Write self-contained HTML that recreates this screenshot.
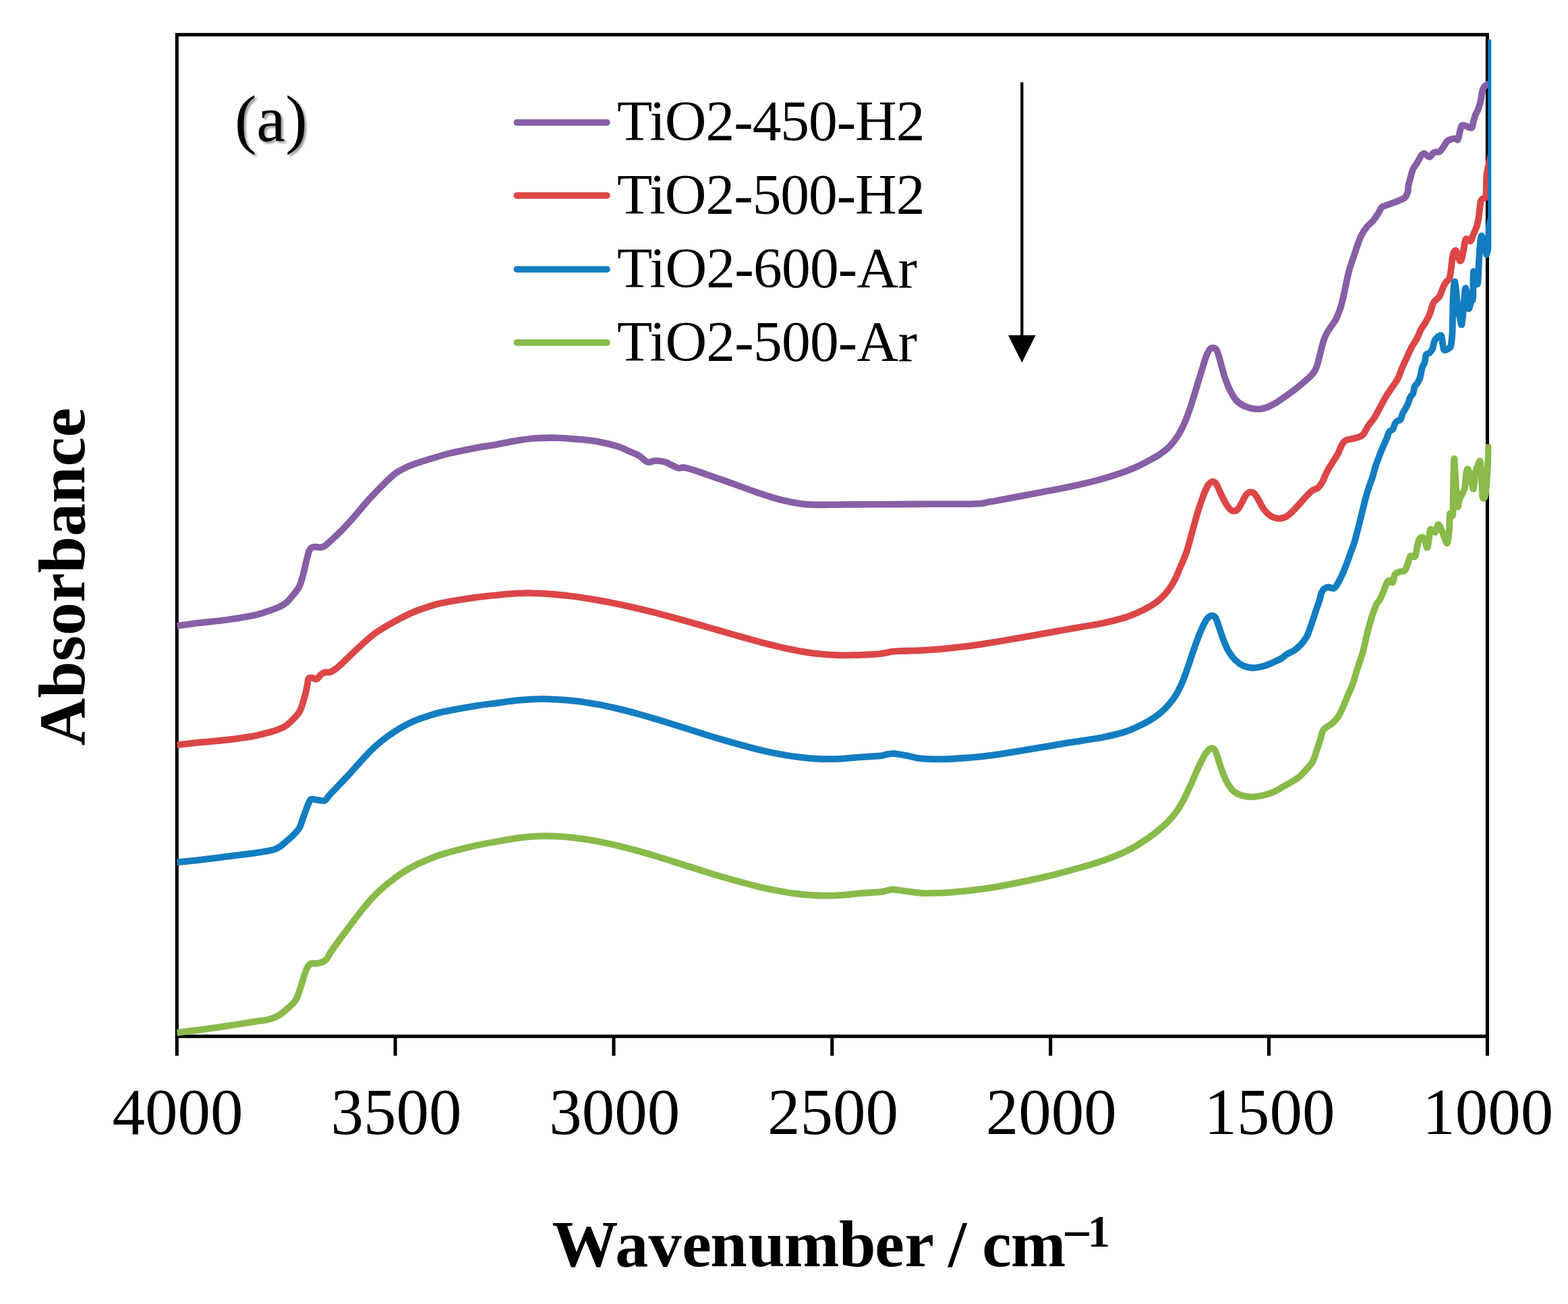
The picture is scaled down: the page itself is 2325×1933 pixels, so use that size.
<!DOCTYPE html>
<html lang="en"><head><meta charset="utf-8"><title>FTIR absorbance spectra</title>
<style>html,body{margin:0;padding:0;background:#fff}body{width:2325px;height:1933px;overflow:hidden}svg{display:block;filter:blur(0.6px)}</style></head>
<body>
<svg width="2325" height="1933" viewBox="0 0 2325 1933">
<defs><clipPath id="cp"><rect x="255" y="45" width="1956.3" height="1496"/></clipPath><filter id="sh" x="-20%" y="-20%" width="150%" height="150%"><feGaussianBlur in="SourceAlpha" stdDeviation="1.8"/><feOffset dx="2.6" dy="2.6"/><feComponentTransfer><feFuncA type="linear" slope="0.4"/></feComponentTransfer><feMerge><feMergeNode/><feMergeNode in="SourceGraphic"/></feMerge></filter></defs>
<rect width="2325" height="1933" fill="#fff"/>
<g stroke="#000" stroke-width="5.1" fill="none" stroke-linecap="butt">
<rect x="262.3" y="51.4" width="1943.1" height="1484.8"/>
<line x1="262.3" y1="1536.2" x2="262.3" y2="1565"/>
<line x1="586.1" y1="1536.2" x2="586.1" y2="1565"/>
<line x1="910.0" y1="1536.2" x2="910.0" y2="1565"/>
<line x1="1233.8" y1="1536.2" x2="1233.8" y2="1565"/>
<line x1="1557.7" y1="1536.2" x2="1557.7" y2="1565"/>
<line x1="1881.5" y1="1536.2" x2="1881.5" y2="1565"/>
<line x1="2205.4" y1="1536.2" x2="2205.4" y2="1565"/>
</g>
<g fill="none" stroke-linejoin="round" stroke-linecap="butt" clip-path="url(#cp)" stroke-width="9.8">
<path d="M262.5,927.8C267.9,927.1 283.0,924.9 295.1,923.4C307.2,921.9 321.8,920.8 335.2,919.0C348.6,917.2 365.3,914.4 375.3,912.4C385.3,910.4 389.3,908.6 395.3,906.7C401.3,904.8 406.6,903.0 411.3,900.9C416.0,898.8 419.7,897.1 423.4,894.2C427.1,891.3 430.1,887.5 433.4,883.5C436.7,879.5 440.7,875.0 443.2,870.5C445.7,866.0 446.7,861.5 448.2,856.5C449.7,851.5 450.9,845.8 452.2,840.4C453.5,835.0 455.0,828.7 456.2,824.4C457.4,820.1 457.8,816.7 459.4,814.4C460.9,812.1 462.8,811.3 465.5,810.8C468.2,810.3 472.8,811.6 475.5,811.4C478.2,811.2 479.2,810.9 481.5,809.4C483.8,807.9 485.5,806.1 489.5,802.4C493.5,798.7 499.6,793.4 505.6,787.3C511.6,781.2 518.9,773.2 525.6,765.6C532.3,758.0 538.9,749.3 545.6,741.9C552.3,734.5 559.0,727.6 565.7,721.0C572.4,714.4 579.0,707.3 585.7,702.3C592.4,697.3 599.1,694.1 605.8,691.1C612.5,688.1 619.1,686.4 625.8,684.2C632.5,682.0 639.2,679.9 645.9,677.9C652.6,675.9 656.0,674.5 665.9,672.2C675.8,669.9 693.6,666.3 705.1,664.1C716.6,661.9 725.1,660.9 735.1,659.1C745.1,657.3 755.2,654.9 765.2,653.3C775.2,651.7 785.3,650.4 795.3,649.7C805.3,649.0 815.3,648.9 825.3,649.1C835.3,649.3 845.4,650.1 855.4,651.0C865.4,651.9 875.5,652.6 885.5,654.4C895.5,656.2 907.1,659.0 915.5,661.6C923.9,664.2 930.2,667.8 935.6,670.1C941.0,672.4 944.3,673.5 947.6,675.5C950.9,677.5 953.3,680.5 955.6,682.1C957.9,683.7 958.9,685.0 961.6,685.2C964.3,685.4 967.7,683.3 971.7,683.2C975.7,683.1 981.7,683.8 985.7,684.8C989.7,685.8 992.4,687.8 995.7,689.3C999.0,690.8 1002.4,693.1 1005.7,693.8C1009.0,694.4 1010.7,692.3 1015.7,693.2C1020.7,694.1 1029.1,697.1 1035.8,699.2C1042.5,701.4 1049.1,703.8 1055.8,706.1C1062.5,708.4 1064.4,709.1 1075.9,713.2C1087.5,717.3 1111.9,726.4 1125.1,730.9C1138.3,735.4 1145.1,737.6 1155.1,740.2C1165.1,742.8 1176.8,745.1 1185.2,746.4C1193.6,747.7 1193.5,748.0 1205.2,748.2C1216.9,748.4 1237.0,747.9 1255.4,747.8C1273.8,747.7 1295.5,747.7 1315.5,747.6C1335.5,747.5 1353.9,747.3 1375.6,747.2C1397.3,747.1 1430.8,747.3 1445.8,746.8C1460.8,746.3 1459.1,745.2 1465.8,744.2C1472.5,743.2 1472.7,743.1 1485.9,740.6C1499.1,738.1 1530.2,732.3 1545.1,729.5C1560.0,726.7 1565.1,725.8 1575.1,723.8C1585.1,721.8 1595.2,719.7 1605.2,717.3C1615.2,714.9 1625.3,712.5 1635.3,709.6C1645.3,706.7 1656.9,703.0 1665.3,700.1C1673.7,697.2 1678.7,695.0 1685.4,692.0C1692.1,689.0 1699.4,685.1 1705.4,681.8C1711.4,678.5 1716.5,675.9 1721.5,672.3C1726.5,668.7 1731.2,665.1 1735.5,660.4C1739.8,655.7 1743.8,650.3 1747.5,644.3C1751.2,638.3 1754.5,631.3 1757.5,624.3C1760.5,617.3 1762.9,610.2 1765.6,602.2C1768.3,594.2 1770.9,584.9 1773.6,576.2C1776.3,567.5 1779.1,558.1 1781.6,550.1C1784.1,542.1 1786.6,533.4 1788.6,528.1C1790.6,522.8 1791.8,520.2 1793.6,518.1C1795.4,516.0 1797.4,515.4 1799.2,515.7C1801.0,516.0 1802.9,516.7 1804.6,520.1C1806.3,523.5 1807.8,529.8 1809.6,536.1C1811.4,542.4 1813.3,551.1 1815.7,558.1C1818.1,565.1 1820.7,572.2 1823.7,578.2C1826.7,584.2 1830.0,590.2 1833.7,594.2C1837.4,598.2 1841.0,600.2 1845.7,602.2C1850.4,604.2 1856.8,605.9 1861.8,606.3C1866.8,606.7 1870.8,606.2 1875.8,604.7C1880.8,603.2 1886.4,600.3 1891.8,597.2C1897.2,594.1 1902.6,590.0 1907.9,586.2C1913.2,582.4 1918.0,579.0 1923.9,574.2C1929.9,569.4 1939.1,561.8 1943.6,557.3C1948.1,552.8 1948.9,551.1 1950.8,547.3C1952.7,543.5 1953.7,538.9 1955.0,534.4C1956.3,529.9 1957.3,525.1 1958.6,520.1C1959.9,515.1 1961.4,508.8 1962.9,504.3C1964.5,499.8 1965.6,496.9 1967.9,492.9C1970.2,488.8 1974.5,483.0 1976.5,480.0C1978.5,477.0 1978.5,477.7 1980.1,474.7C1981.6,471.7 1984.1,466.3 1985.8,461.8C1987.5,457.3 1988.8,452.5 1990.1,447.5C1991.4,442.5 1992.5,437.3 1993.7,431.8C1994.9,426.3 1996.0,420.3 1997.3,414.6C1998.6,408.9 1999.8,403.1 2001.5,397.4C2003.2,391.7 2005.4,385.9 2007.3,380.2C2009.2,374.5 2011.1,368.2 2013.0,363.0C2014.9,357.8 2016.3,353.2 2018.7,348.7C2021.1,344.2 2024.4,339.4 2027.3,335.8C2030.2,332.2 2033.3,330.4 2035.9,327.3C2038.5,324.2 2040.9,320.6 2043.1,317.2C2045.2,313.8 2046.7,309.3 2048.8,307.2C2051.0,305.1 2052.9,305.5 2056.0,304.3C2059.1,303.1 2064.1,301.3 2067.4,300.0C2070.7,298.7 2073.4,297.7 2076.0,296.5C2078.6,295.3 2081.3,294.9 2083.2,292.9C2085.1,290.9 2086.7,287.1 2087.5,284.3C2088.3,281.5 2087.5,280.0 2088.2,276.3C2088.9,272.6 2090.6,266.3 2091.8,262.0C2093.0,257.7 2093.6,254.1 2095.3,250.5C2097.0,246.9 2099.8,243.8 2101.8,240.5C2103.8,237.2 2105.8,232.6 2107.5,230.4C2109.2,228.2 2109.8,227.2 2111.8,227.6C2113.8,228.0 2117.3,232.8 2119.7,232.6C2122.1,232.3 2123.6,227.4 2126.1,226.1C2128.6,224.8 2132.3,226.1 2134.7,224.7C2137.1,223.3 2138.6,220.0 2140.4,217.5C2142.2,215.0 2143.7,211.5 2145.4,209.7C2147.1,207.9 2148.5,207.5 2150.5,206.8C2152.5,206.1 2155.7,205.4 2157.6,205.4C2159.5,205.4 2160.7,208.6 2161.9,206.8C2163.1,205.0 2163.9,198.1 2164.8,194.6C2165.8,191.1 2166.2,187.3 2167.6,186.0C2169.0,184.7 2171.0,186.2 2173.4,186.8C2175.8,187.4 2180.1,190.7 2182.0,189.6C2183.9,188.5 2183.9,183.5 2184.8,180.3C2185.8,177.1 2186.5,173.4 2187.7,170.3C2188.9,167.2 2190.7,165.3 2192.0,161.7C2193.3,158.1 2194.5,153.6 2195.6,148.8C2196.7,144.0 2197.3,136.7 2198.4,133.1C2199.5,129.5 2200.4,128.8 2202.0,127.3C2203.6,125.8 2207.0,124.4 2208.0,123.8" stroke="#875FA5"/>
<path d="M262.5,1104.3C267.9,1103.7 283.0,1101.9 295.1,1100.7C307.2,1099.5 321.8,1098.5 335.2,1096.9C348.6,1095.3 365.3,1093.0 375.3,1091.3C385.3,1089.6 389.3,1088.2 395.3,1086.6C401.3,1085.0 406.6,1083.5 411.3,1081.8C416.0,1080.0 419.7,1078.5 423.4,1076.1C427.1,1073.7 430.0,1070.9 433.4,1067.4C436.8,1064.0 441.3,1059.6 443.9,1055.4C446.5,1051.2 447.4,1046.9 448.9,1042.4C450.4,1037.9 451.7,1033.0 452.9,1028.3C454.1,1023.6 455.1,1018.0 455.9,1014.3C456.6,1010.6 456.3,1007.9 457.4,1006.3C458.5,1004.7 460.5,1004.6 462.5,1004.7C464.5,1004.8 467.3,1007.4 469.5,1006.7C471.7,1006.0 473.5,1002.0 475.5,1000.3C477.5,998.6 479.2,997.4 481.5,996.7C483.8,996.0 486.5,997.4 489.5,996.3C492.5,995.2 495.1,993.8 499.5,990.3C503.9,986.8 509.6,981.1 515.6,975.4C521.6,969.7 528.9,962.3 535.6,956.3C542.3,950.2 549.0,944.1 555.7,939.1C562.4,934.1 569.0,930.4 575.7,926.5C582.4,922.6 589.0,919.0 595.7,915.6C602.4,912.2 609.1,908.8 615.8,906.1C622.5,903.4 629.1,901.2 635.8,899.2C642.5,897.2 644.3,896.0 655.9,893.8C667.5,891.5 691.9,887.6 705.1,885.7C718.3,883.8 725.1,883.3 735.1,882.3C745.1,881.3 756.9,880.2 765.2,879.7C773.6,879.2 776.9,879.0 785.2,879.1C793.6,879.2 805.3,879.8 815.3,880.5C825.3,881.2 835.4,882.3 845.4,883.5C855.4,884.7 865.4,886.2 875.4,887.8C885.4,889.4 895.5,891.2 905.5,893.2C915.5,895.2 925.6,897.3 935.6,899.6C945.6,901.9 955.6,904.3 965.6,906.8C975.6,909.3 985.7,912.0 995.7,914.7C1005.7,917.4 1015.8,920.2 1025.8,923.0C1035.8,925.8 1047.4,929.2 1055.8,931.6C1064.2,934.0 1064.4,934.1 1075.9,937.4C1087.5,940.7 1111.9,947.7 1125.1,951.3C1138.3,954.9 1145.1,956.5 1155.1,958.8C1165.1,961.1 1175.2,963.3 1185.2,965.1C1195.2,966.9 1205.3,968.4 1215.3,969.4C1225.3,970.4 1235.3,971.0 1245.3,971.3C1255.3,971.5 1265.4,971.3 1275.4,970.9C1285.4,970.5 1297.8,969.9 1305.5,969.1C1313.2,968.3 1316.5,966.8 1321.5,966.1C1326.5,965.4 1328.2,965.4 1335.5,965.1C1342.8,964.8 1355.6,964.6 1365.6,964.1C1375.6,963.6 1385.7,963.0 1395.7,962.1C1405.7,961.2 1415.7,960.1 1425.7,958.9C1435.7,957.7 1445.8,956.3 1455.8,954.8C1465.8,953.3 1471.0,952.5 1485.9,950.0C1500.8,947.5 1530.2,942.2 1545.1,939.6C1560.0,937.0 1565.1,936.0 1575.1,934.2C1585.1,932.4 1595.2,930.7 1605.2,929.0C1615.2,927.3 1625.3,925.9 1635.3,923.8C1645.3,921.7 1656.9,918.8 1665.3,916.3C1673.7,913.8 1678.7,911.6 1685.4,908.7C1692.1,905.8 1699.7,902.0 1705.4,898.7C1711.1,895.4 1715.1,892.7 1719.4,888.9C1723.8,885.1 1727.8,880.9 1731.5,876.1C1735.2,871.3 1738.5,865.9 1741.5,860.2C1744.5,854.5 1746.5,849.2 1749.5,842.1C1752.5,835.0 1756.5,826.7 1759.5,817.8C1762.5,808.9 1764.9,798.4 1767.6,788.9C1770.3,779.4 1772.9,769.3 1775.6,760.6C1778.3,751.9 1781.1,743.2 1783.6,736.5C1786.1,729.8 1788.6,724.1 1790.6,720.5C1792.6,716.9 1794.2,716.0 1795.6,714.9C1797.0,713.8 1797.9,713.7 1799.2,714.1C1800.5,714.5 1801.9,714.8 1803.6,717.5C1805.3,720.2 1807.2,725.6 1809.6,730.5C1811.9,735.4 1815.2,742.4 1817.7,746.6C1820.2,750.8 1822.7,753.8 1824.7,755.6C1826.7,757.4 1827.9,757.8 1829.7,757.6C1831.5,757.4 1833.7,756.8 1835.7,754.6C1837.7,752.4 1839.7,748.1 1841.7,744.6C1843.7,741.1 1845.7,736.0 1847.7,733.5C1849.7,731.0 1851.7,729.8 1853.7,729.5C1855.7,729.2 1857.8,729.7 1859.8,731.5C1861.8,733.3 1863.5,736.6 1865.8,740.5C1868.1,744.4 1870.8,750.6 1873.8,754.6C1876.8,758.6 1880.1,762.3 1883.8,764.6C1887.5,766.9 1891.8,768.4 1895.8,768.6C1899.8,768.8 1903.9,767.9 1907.9,765.6C1911.9,763.3 1914.0,760.7 1919.9,754.6C1925.9,748.5 1938.0,733.9 1943.6,728.8C1949.2,723.7 1950.7,726.2 1953.6,723.8C1956.5,721.4 1958.4,718.7 1960.8,714.5C1963.2,710.3 1965.3,703.7 1967.9,698.7C1970.5,693.7 1973.9,688.7 1976.5,684.4C1979.1,680.1 1981.5,677.0 1983.7,672.9C1985.9,668.8 1987.5,663.3 1989.4,660.0C1991.3,656.7 1992.7,654.4 1995.1,652.9C1997.5,651.4 2000.8,651.4 2003.7,650.7C2006.6,650.0 2009.4,649.7 2012.3,648.6C2015.2,647.5 2018.0,647.3 2020.9,644.3C2023.8,641.2 2026.6,634.5 2029.5,630.3C2032.4,626.1 2035.2,623.4 2038.1,618.9C2041.0,614.4 2043.8,608.4 2046.7,603.1C2049.6,597.9 2052.4,592.2 2055.3,587.4C2058.2,582.6 2061.0,578.8 2063.9,574.5C2066.8,570.2 2070.1,566.1 2072.5,561.6C2074.9,557.1 2076.1,552.3 2078.2,547.3C2080.3,542.3 2082.9,536.8 2085.3,531.5C2087.7,526.2 2089.9,520.8 2092.5,515.8C2095.1,510.8 2098.7,506.0 2101.1,501.5C2103.5,497.0 2104.9,492.2 2106.8,488.6C2108.7,485.0 2111.2,482.1 2112.5,480.0C2113.8,477.9 2113.4,478.8 2114.7,476.2C2116.0,473.6 2118.7,469.0 2120.4,464.7C2122.1,460.4 2123.3,453.7 2124.7,450.4C2126.1,447.1 2127.3,446.6 2129.0,444.7C2130.7,442.8 2132.8,442.2 2134.7,438.9C2136.6,435.5 2138.7,428.2 2140.4,424.6C2142.1,421.0 2143.3,419.4 2144.7,417.5C2146.1,415.6 2147.9,415.8 2149.0,413.2C2150.1,410.6 2150.5,406.5 2151.2,401.7C2151.9,396.9 2152.6,389.0 2153.3,384.5C2154.0,380.0 2154.6,376.6 2155.5,374.5C2156.4,372.4 2157.9,370.7 2159.0,371.6C2160.1,372.6 2160.9,377.7 2161.9,380.2C2162.9,382.7 2163.9,386.2 2164.8,386.7C2165.8,387.2 2166.7,386.1 2167.6,383.1C2168.5,380.1 2169.7,373.3 2170.5,368.8C2171.3,364.3 2171.8,358.3 2172.7,355.9C2173.6,353.5 2174.9,354.3 2176.2,354.5C2177.5,354.7 2179.1,358.5 2180.5,357.3C2181.9,356.1 2183.1,351.4 2184.8,347.3C2186.5,343.2 2189.1,338.2 2190.5,333.0C2191.9,327.8 2192.6,321.5 2193.4,315.8C2194.2,310.1 2194.7,302.2 2195.6,298.6C2196.5,295.0 2197.8,295.2 2199.1,294.3C2200.4,293.4 2202.7,293.1 2203.4,292.9L2204.3,257.0" stroke="#DC4647"/>
<polygon points="2199.4,257.5 2206.4,257.5 2206.4,226" fill="#DC4647" stroke="none"/>
<path d="M262.5,1278.3C267.9,1277.7 283.0,1276.3 295.1,1274.9C307.2,1273.5 321.8,1271.6 335.2,1269.9C348.6,1268.2 365.3,1266.2 375.3,1264.9C385.3,1263.6 390.0,1262.8 395.3,1261.8C400.6,1260.8 404.0,1260.2 407.3,1259.0C410.6,1257.8 412.4,1256.9 415.4,1254.8C418.4,1252.7 422.1,1249.3 425.4,1246.4C428.7,1243.5 432.3,1240.6 435.4,1237.4C438.5,1234.2 441.6,1231.2 443.8,1227.4C446.0,1223.6 447.1,1218.8 448.8,1214.3C450.5,1209.8 452.3,1204.3 453.8,1200.3C455.3,1196.3 456.5,1192.9 457.8,1190.3C459.1,1187.7 459.2,1185.4 461.5,1184.7C463.8,1184.0 468.2,1185.6 471.5,1185.9C474.8,1186.2 478.8,1187.7 481.5,1186.7C484.2,1185.7 485.2,1182.3 487.5,1179.7C489.8,1177.1 490.8,1176.0 495.5,1171.1C500.2,1166.2 508.9,1157.3 515.6,1150.1C522.3,1142.9 528.9,1135.0 535.6,1127.8C542.3,1120.6 549.0,1113.2 555.7,1107.1C562.4,1100.9 569.0,1095.8 575.7,1090.9C582.4,1086.1 589.0,1081.8 595.7,1078.0C602.4,1074.2 609.1,1070.8 615.8,1068.0C622.5,1065.2 629.1,1063.2 635.8,1061.1C642.5,1059.0 644.3,1057.9 655.9,1055.4C667.5,1052.9 691.9,1048.5 705.1,1046.3C718.3,1044.1 725.1,1043.7 735.1,1042.4C745.1,1041.1 755.2,1039.4 765.2,1038.4C775.2,1037.4 785.3,1036.6 795.3,1036.3C805.3,1036.0 815.3,1036.3 825.3,1036.8C835.3,1037.3 845.4,1038.1 855.4,1039.3C865.4,1040.5 875.5,1042.2 885.5,1044.0C895.5,1045.8 905.5,1048.1 915.5,1050.4C925.5,1052.8 935.6,1055.3 945.6,1058.1C955.6,1060.8 965.7,1063.9 975.7,1066.9C985.7,1069.9 995.7,1073.0 1005.7,1076.1C1015.7,1079.2 1025.8,1082.5 1035.8,1085.7C1045.8,1088.9 1051.0,1090.7 1065.9,1095.0C1080.8,1099.3 1110.2,1107.5 1125.1,1111.3C1140.0,1115.1 1145.1,1115.8 1155.1,1117.7C1165.1,1119.6 1175.2,1121.2 1185.2,1122.4C1195.2,1123.6 1205.3,1124.6 1215.3,1125.0C1225.3,1125.4 1235.3,1125.2 1245.3,1124.8C1255.3,1124.4 1265.4,1123.1 1275.4,1122.4C1285.4,1121.7 1298.8,1121.1 1305.5,1120.4C1312.2,1119.7 1312.2,1118.7 1315.5,1118.2C1318.8,1117.7 1320.5,1116.8 1325.5,1117.2C1330.5,1117.6 1338.9,1119.2 1345.6,1120.4C1352.3,1121.6 1357.2,1123.6 1365.6,1124.4C1373.9,1125.2 1385.7,1125.4 1395.7,1125.3C1405.7,1125.2 1415.7,1124.7 1425.7,1124.0C1435.7,1123.3 1445.8,1122.4 1455.8,1121.3C1465.8,1120.2 1471.0,1119.7 1485.9,1117.4C1500.8,1115.1 1530.2,1110.2 1545.1,1107.7C1560.0,1105.2 1565.1,1104.2 1575.1,1102.6C1585.1,1100.9 1595.2,1099.4 1605.2,1097.8C1615.2,1096.2 1625.3,1095.0 1635.3,1093.0C1645.3,1091.0 1656.9,1088.3 1665.3,1085.8C1673.7,1083.3 1678.7,1081.0 1685.4,1077.9C1692.1,1074.9 1699.7,1070.9 1705.4,1067.5C1711.1,1064.1 1715.1,1061.2 1719.4,1057.7C1723.8,1054.2 1727.5,1050.8 1731.5,1046.3C1735.5,1041.8 1739.8,1036.5 1743.5,1030.5C1747.2,1024.5 1750.5,1017.5 1753.5,1010.5C1756.5,1003.5 1758.8,996.2 1761.5,988.5C1764.2,980.8 1766.9,972.1 1769.6,964.4C1772.3,956.7 1774.9,949.1 1777.6,942.4C1780.3,935.7 1783.3,928.8 1785.6,924.3C1787.9,919.8 1789.7,917.2 1791.6,915.3C1793.5,913.4 1795.4,912.6 1797.2,912.7C1799.0,912.8 1800.9,913.2 1802.6,916.0C1804.3,918.8 1805.8,924.5 1807.6,929.7C1809.4,935.0 1811.3,941.5 1813.7,947.5C1816.1,953.5 1818.7,960.2 1821.7,965.4C1824.7,970.6 1828.0,974.9 1831.7,978.5C1835.4,982.1 1839.4,985.1 1843.7,987.0C1848.0,988.9 1852.8,989.9 1857.8,990.0C1862.8,990.1 1868.5,988.9 1873.8,987.4C1879.1,985.9 1885.4,982.9 1889.8,981.0C1894.2,979.1 1896.9,977.9 1900.0,976.0C1903.1,974.1 1905.5,971.4 1908.6,969.5C1911.7,967.6 1915.3,966.8 1918.6,964.5C1921.9,962.2 1925.5,959.2 1928.6,955.9C1931.7,952.5 1934.8,948.7 1937.2,944.4C1939.6,940.1 1941.3,934.6 1943.0,930.1C1944.7,925.6 1945.9,921.5 1947.3,917.2C1948.7,912.9 1950.0,908.8 1951.5,904.3C1953.0,899.8 1955.2,894.2 1956.5,890.0C1957.8,885.8 1958.1,882.0 1959.3,879.1C1960.5,876.2 1961.8,874.1 1963.6,872.7C1965.4,871.3 1967.7,870.6 1970.1,870.5C1972.5,870.4 1975.7,873.0 1978.0,872.0C1980.3,871.0 1981.6,868.4 1983.7,864.8C1985.8,861.2 1988.7,855.3 1990.8,850.5C1992.9,845.7 1994.7,841.2 1996.6,836.2C1998.5,831.2 2000.4,825.6 2002.3,820.4C2004.2,815.1 2006.3,810.0 2008.0,804.7C2009.7,799.5 2010.9,794.4 2012.3,788.9C2013.7,783.4 2015.2,777.4 2016.6,771.7C2018.0,766.0 2019.5,760.2 2020.9,754.5C2022.3,748.8 2023.8,742.6 2025.2,737.4C2026.6,732.1 2027.8,728.0 2029.5,723.0C2031.2,718.0 2033.5,712.5 2035.2,707.3C2036.9,702.0 2037.8,696.8 2039.5,691.5C2041.2,686.2 2043.4,680.8 2045.3,675.8C2047.2,670.8 2049.1,666.0 2051.0,661.5C2052.9,657.0 2055.3,652.1 2056.7,648.6C2058.1,645.1 2058.2,642.5 2059.6,640.4C2061.0,638.3 2063.9,638.0 2065.3,636.1C2066.7,634.2 2067.2,630.8 2068.2,628.9C2069.1,627.0 2069.6,625.8 2071.0,624.6C2072.4,623.4 2075.4,623.7 2076.8,621.8C2078.2,619.9 2078.4,615.8 2079.6,613.2C2080.8,610.6 2082.5,608.6 2083.9,606.0C2085.3,603.4 2087.0,600.3 2088.2,597.4C2089.4,594.5 2089.9,591.2 2091.1,588.8C2092.3,586.4 2094.3,585.7 2095.4,583.1C2096.5,580.5 2096.6,575.5 2097.5,573.1C2098.4,570.7 2099.8,570.9 2101.1,568.8C2102.4,566.6 2104.1,564.3 2105.4,560.2C2106.7,556.1 2107.8,548.2 2109.0,544.4C2110.2,540.6 2111.6,540.4 2112.5,537.3C2113.4,534.2 2113.5,528.2 2114.7,525.8C2115.9,523.4 2118.1,524.4 2119.7,523.0C2121.2,521.6 2122.8,520.1 2124.0,517.2C2125.2,514.3 2125.7,508.7 2126.9,505.8C2128.1,502.9 2129.5,501.4 2131.2,500.0C2132.9,498.6 2135.6,495.8 2136.9,497.2C2138.2,498.6 2138.3,505.0 2139.0,508.6C2139.7,512.2 2139.9,517.3 2141.2,518.7C2142.5,520.1 2145.2,518.2 2146.9,517.2C2148.6,516.2 2150.1,516.7 2151.2,512.9C2152.3,509.1 2152.9,501.4 2153.4,494.3C2153.9,487.2 2153.8,479.5 2154.0,470.0C2154.2,460.5 2154.3,446.2 2154.8,437.5C2155.3,428.8 2156.2,418.7 2156.9,417.5C2157.6,416.3 2158.3,424.6 2159.0,430.3C2159.7,436.0 2160.2,444.9 2161.2,451.8C2162.2,458.7 2163.7,467.1 2164.8,471.9C2165.9,476.7 2166.7,483.9 2167.6,480.5C2168.5,477.1 2169.7,460.6 2170.5,451.8C2171.3,443.0 2171.9,429.9 2172.7,427.5C2173.5,425.1 2174.7,432.5 2175.5,437.5C2176.3,442.5 2176.6,456.4 2177.7,457.6C2178.8,458.8 2180.9,447.3 2182.0,444.7C2183.1,442.1 2183.6,448.7 2184.1,441.8C2184.6,434.9 2184.2,407.4 2184.8,403.1C2185.4,398.8 2186.6,413.4 2187.7,416.0C2188.8,418.6 2190.4,424.9 2191.3,418.9C2192.2,412.9 2192.6,391.6 2193.4,380.2C2194.2,368.8 2195.1,353.3 2196.3,350.2C2197.5,347.1 2199.3,357.1 2200.6,361.6C2201.9,366.1 2203.6,374.8 2204.2,377.4L2207.3,366.0L2207.8,336.0L2211.2,322.0L2211.2,58.6" stroke="#137DC1"/>
<path d="M262.5,1530.8C268.4,1530.0 287.3,1527.7 298.0,1526.3C308.7,1524.9 317.1,1523.8 326.6,1522.4C336.1,1521.0 345.6,1519.5 355.2,1518.0C364.8,1516.5 376.7,1514.5 383.9,1513.4C391.1,1512.3 393.4,1512.5 398.2,1511.2C403.0,1509.9 407.7,1508.5 412.5,1505.8C417.3,1503.0 422.5,1498.6 426.8,1494.7C431.1,1490.8 435.2,1487.6 438.3,1482.6C441.4,1477.6 443.2,1470.8 445.4,1464.7C447.5,1458.6 449.5,1451.0 451.2,1446.0C452.9,1441.0 453.8,1437.6 455.5,1434.6C457.2,1431.6 458.8,1429.3 461.2,1428.2C463.6,1427.1 466.9,1428.6 469.8,1428.2C472.7,1427.8 476.0,1427.1 478.4,1426.0C480.8,1424.9 482.0,1424.4 484.1,1421.7C486.2,1419.0 488.9,1413.6 491.3,1410.0C493.7,1406.4 494.3,1405.5 498.4,1400.0C502.4,1394.5 509.4,1385.0 515.6,1376.8C521.8,1368.5 528.9,1358.8 535.6,1350.5C542.3,1342.2 549.0,1334.0 555.7,1327.1C562.4,1320.2 569.0,1314.7 575.7,1309.2C582.4,1303.7 589.0,1298.7 595.7,1294.3C602.4,1289.9 609.1,1286.1 615.8,1282.7C622.5,1279.3 629.1,1276.4 635.8,1273.7C642.5,1271.0 644.3,1269.7 655.9,1266.3C667.5,1262.9 691.9,1256.7 705.1,1253.6C718.3,1250.5 725.1,1249.6 735.1,1247.8C745.1,1246.0 755.2,1244.0 765.2,1242.6C775.2,1241.2 785.3,1240.1 795.3,1239.6C805.3,1239.1 815.3,1239.2 825.3,1239.7C835.3,1240.2 845.4,1241.1 855.4,1242.3C865.4,1243.5 875.5,1245.1 885.5,1247.0C895.5,1248.9 905.5,1251.1 915.5,1253.5C925.5,1255.9 935.6,1258.5 945.6,1261.3C955.6,1264.1 965.7,1267.1 975.7,1270.1C985.7,1273.1 995.7,1276.3 1005.7,1279.5C1015.7,1282.7 1025.8,1285.8 1035.8,1289.0C1045.8,1292.2 1051.0,1294.2 1065.9,1298.4C1080.8,1302.7 1110.2,1310.8 1125.1,1314.5C1140.0,1318.2 1145.1,1319.0 1155.1,1320.8C1165.1,1322.6 1175.2,1324.2 1185.2,1325.3C1195.2,1326.4 1205.3,1327.2 1215.3,1327.5C1225.3,1327.8 1235.3,1327.6 1245.3,1327.1C1255.3,1326.5 1265.4,1325.0 1275.4,1324.2C1285.4,1323.4 1298.8,1322.9 1305.5,1322.2C1312.2,1321.5 1312.2,1320.6 1315.5,1320.0C1318.8,1319.4 1320.5,1318.4 1325.5,1318.6C1330.5,1318.8 1338.9,1320.5 1345.6,1321.4C1352.3,1322.3 1357.2,1323.4 1365.6,1323.8C1373.9,1324.2 1385.7,1324.0 1395.7,1323.6C1405.7,1323.2 1415.7,1322.3 1425.7,1321.3C1435.7,1320.3 1445.8,1319.2 1455.8,1317.8C1465.8,1316.4 1471.0,1315.9 1485.9,1313.1C1500.8,1310.3 1530.2,1304.2 1545.1,1300.9C1560.0,1297.6 1565.1,1296.0 1575.1,1293.4C1585.1,1290.8 1595.2,1288.0 1605.2,1285.1C1615.2,1282.2 1625.3,1279.3 1635.3,1275.8C1645.3,1272.3 1656.9,1267.6 1665.3,1263.9C1673.7,1260.2 1678.7,1257.3 1685.4,1253.4C1692.1,1249.5 1699.7,1244.3 1705.4,1240.3C1711.1,1236.3 1715.1,1232.9 1719.4,1229.2C1723.8,1225.5 1727.5,1222.4 1731.5,1218.3C1735.5,1214.2 1739.8,1209.4 1743.5,1204.4C1747.2,1199.4 1750.5,1193.7 1753.5,1188.3C1756.5,1182.9 1758.8,1178.0 1761.5,1172.3C1764.2,1166.6 1766.9,1160.3 1769.6,1154.3C1772.3,1148.3 1774.9,1141.9 1777.6,1136.2C1780.3,1130.5 1783.3,1124.2 1785.6,1120.2C1787.9,1116.2 1789.8,1114.0 1791.6,1112.2C1793.4,1110.4 1794.9,1109.2 1796.6,1109.2C1798.3,1109.2 1799.9,1109.4 1801.6,1112.2C1803.3,1115.0 1804.8,1120.9 1806.6,1126.2C1808.4,1131.5 1810.5,1138.6 1812.7,1144.3C1814.9,1150.0 1816.9,1155.5 1819.7,1160.3C1822.5,1165.1 1826.0,1170.1 1829.7,1173.3C1833.4,1176.5 1837.4,1178.0 1841.7,1179.3C1846.0,1180.6 1850.7,1181.3 1855.7,1181.3C1860.7,1181.3 1866.5,1180.5 1871.8,1179.3C1877.1,1178.1 1882.1,1176.8 1887.8,1174.3C1893.5,1171.8 1900.6,1167.3 1905.9,1164.3C1911.2,1161.3 1915.9,1159.0 1919.9,1156.3C1923.9,1153.6 1925.6,1152.7 1929.9,1148.3C1934.2,1143.9 1942.2,1135.6 1945.8,1130.0C1949.4,1124.4 1949.6,1120.2 1951.5,1114.8C1953.4,1109.4 1955.6,1102.8 1957.3,1097.6C1959.0,1092.3 1959.9,1086.6 1961.6,1083.3C1963.3,1080.0 1964.9,1079.5 1967.3,1077.6C1969.7,1075.7 1973.0,1074.5 1975.9,1071.9C1978.8,1069.3 1981.9,1065.9 1984.5,1061.8C1987.1,1057.7 1989.2,1052.8 1991.6,1047.5C1994.0,1042.2 1996.4,1036.0 1998.8,1030.3C2001.2,1024.6 2003.8,1019.2 2006.0,1013.2C2008.2,1007.2 2009.8,1000.5 2011.7,994.5C2013.6,988.5 2015.7,982.6 2017.4,977.4C2019.1,972.1 2020.3,968.5 2021.7,963.0C2023.1,957.5 2024.6,950.4 2026.0,944.4C2027.4,938.4 2028.6,933.3 2030.3,927.3C2032.0,921.3 2034.1,914.1 2036.0,908.6C2037.9,903.1 2040.2,897.4 2041.8,894.3C2043.3,891.2 2043.8,892.8 2045.3,890.0C2046.8,887.2 2049.1,882.1 2051.0,877.7C2052.9,873.3 2055.0,866.3 2056.7,863.4C2058.4,860.5 2059.6,860.5 2061.0,860.5C2062.4,860.5 2064.1,864.8 2065.3,863.4C2066.5,862.0 2066.5,854.5 2068.2,851.9C2069.9,849.3 2072.9,848.5 2075.3,847.6C2077.7,846.7 2080.6,847.9 2082.5,846.2C2084.4,844.5 2085.4,841.2 2086.8,837.6C2088.2,834.0 2089.2,826.9 2091.1,824.7C2093.0,822.6 2096.5,826.9 2098.2,824.7C2099.9,822.6 2100.0,816.1 2101.1,811.8C2102.2,807.5 2103.0,801.3 2104.7,798.9C2106.4,796.5 2109.2,795.4 2111.1,797.5C2113.0,799.6 2114.8,811.8 2116.1,811.8C2117.4,811.8 2118.2,802.0 2119.0,797.5C2119.8,793.0 2119.5,786.0 2121.1,784.6C2122.7,783.2 2126.4,790.1 2128.3,788.9C2130.2,787.7 2130.9,777.7 2132.6,777.5C2134.3,777.3 2136.6,783.9 2138.3,787.5C2140.0,791.1 2141.3,796.0 2142.6,798.9C2143.9,801.8 2145.1,807.3 2146.2,804.7C2147.3,802.1 2148.5,790.4 2149.1,783.2C2149.7,776.0 2149.0,765.1 2149.8,761.7C2150.6,758.4 2153.3,769.1 2154.1,763.1C2154.9,757.1 2154.5,739.7 2154.8,725.9C2155.2,712.1 2155.6,682.5 2156.2,680.1C2156.8,677.7 2157.6,699.9 2158.4,711.6C2159.2,723.3 2160.2,745.5 2161.2,750.3C2162.1,755.1 2162.9,743.3 2164.1,740.2C2165.3,737.1 2167.1,734.5 2168.4,731.6C2169.7,728.7 2171.1,728.0 2172.0,723.0C2172.9,718.0 2173.3,706.1 2174.1,701.6C2174.9,697.1 2175.8,694.1 2177.0,695.8C2178.2,697.5 2180.0,706.8 2181.3,711.6C2182.6,716.4 2183.8,726.4 2184.9,724.5C2186.0,722.6 2186.6,705.8 2187.7,700.1C2188.8,694.4 2190.1,692.7 2191.3,690.1C2192.5,687.5 2194.0,680.8 2194.9,684.4C2195.8,688.0 2196.4,702.8 2197.0,711.6C2197.6,720.4 2197.5,734.1 2198.5,737.4C2199.5,740.7 2201.6,738.3 2202.8,731.6C2204.0,724.9 2204.8,709.5 2205.6,697.3C2206.4,685.1 2207.4,665.0 2207.8,658.6" stroke="#89BA4A"/>
</g>
<g stroke-width="9.6" stroke-linecap="round" fill="none">
<line x1="766.3" y1="181.6" x2="900" y2="181.6" stroke="#875FA5"/>
<line x1="766.3" y1="289.9" x2="900" y2="289.9" stroke="#DC4647"/>
<line x1="766.3" y1="399.2" x2="900" y2="399.2" stroke="#137DC1"/>
<line x1="766.3" y1="507.9" x2="900" y2="507.9" stroke="#89BA4A"/>
</g>
<g font-family="'Liberation Serif', 'Times New Roman', serif" fill="#000">
<g font-size="85.5">
<text x="915" y="208.3" textLength="456.5" lengthAdjust="spacing">TiO2-450-H2</text>
<text x="915" y="317.1" textLength="456.5" lengthAdjust="spacing">TiO2-500-H2</text>
<text x="915" y="426.3" textLength="445" lengthAdjust="spacing">TiO2-600-Ar</text>
<text x="915" y="534.8" textLength="445" lengthAdjust="spacing">TiO2-500-Ar</text>
</g>
<text x="348" y="208.8" font-size="97" filter="url(#sh)">(a)</text>
<g font-size="97" text-anchor="middle">
<text x="263.6" y="1680.8">4000</text>
<text x="587.4" y="1680.8">3500</text>
<text x="911.2" y="1680.8">3000</text>
<text x="1235.0" y="1680.8">2500</text>
<text x="1558.7" y="1680.8">2000</text>
<text x="1882.5" y="1680.8">1500</text>
<text x="2206.3" y="1680.8">1000</text>
</g>
<text y="1876.6" font-size="98" font-weight="bold" x="818.6 912.2 961.5 1011.3 1053.2 1109.3 1162.7 1244.1 1297.3 1341.5 1383 1405.9 1433 1456.3 1498.7">Wavenumber / cm<tspan font-size="77.4" x="1574.9" y="1854.7">−</tspan><tspan font-size="66.7" x="1612.7" y="1848">1</tspan></text>
<text transform="translate(125,855) rotate(-90)" font-size="98" font-weight="bold" text-anchor="middle">Absorbance</text>
</g>
<line x1="1515.3" y1="122" x2="1515.3" y2="500" stroke="#000" stroke-width="4.3"/>
<polygon points="1495,497 1535.6,497 1515.3,537.5" fill="#000"/>
</svg>
</body></html>
